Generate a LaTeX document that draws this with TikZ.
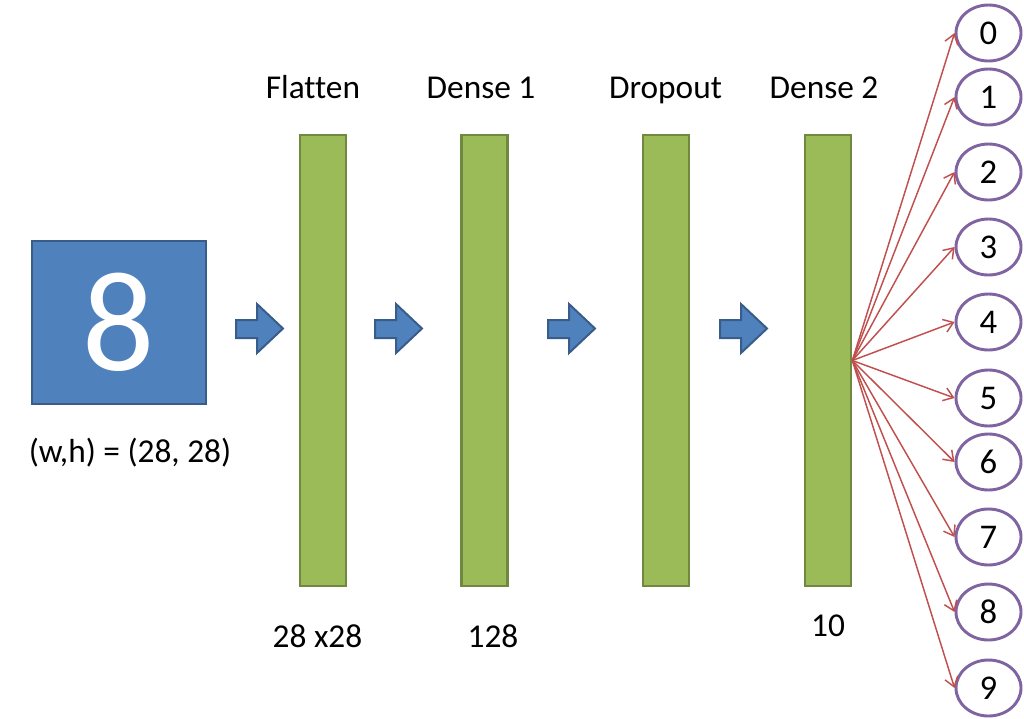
\documentclass[tikz,border=0pt]{standalone}
\usepackage{fontspec}
\setmainfont{Carlito}[Ligatures=NoCommon]
\usetikzlibrary{arrows.meta,shapes.geometric}
\definecolor{boxblue}{HTML}{4F81BD}
\definecolor{boxblueline}{HTML}{385D8A}
\definecolor{bargreen}{HTML}{9BBB59}
\definecolor{bargreenline}{HTML}{71893F}
\definecolor{linkred}{HTML}{C0504D}
\definecolor{outpurple}{HTML}{8064A2}
\tikzset{
  layerbar/.style={draw=bargreenline, fill=bargreen, line width=2pt, minimum width=34.5pt, minimum height=338.25pt, inner sep=0pt},
  flowarrow/.style={draw=boxblueline, fill=boxblue, line width=1.5pt, line join=miter},
  lbl/.style={font=\fontsize{25}{30}\selectfont, inner sep=0pt, anchor=base},
  outnode/.style={ellipse, draw=outpurple, line width=2.2pt, fill=white, minimum width=48.75pt, minimum height=42pt, inner sep=0pt, font=\fontsize{26}{30}\selectfont},
  link/.style={draw=linkred, line width=1.1pt, -{Straight Barb[length=7pt,width=10pt]}}
}
\begin{document}
\begin{tikzpicture}[x=0.75pt,y=-0.75pt]
\useasboundingbox (0,0) rectangle (1024,718);
% input image
\node[draw=boxblueline, fill=boxblue, line width=1.5pt, minimum width=130.5pt, minimum height=122.25pt, inner sep=0pt, text=white, font=\fontsize{107}{110}\selectfont] (img) at (119,322.5) {8};
\node[lbl] (imglbl) at (130,462) {(w,h) = (28, 28)};
% layers
\node[layerbar] (fl) at (323,360.5) {};
\node[layerbar] (d1) at (484.5,360.5) {};
\node[layerbar] (dr) at (666,360.5) {};
\node[layerbar] (d2) at (828,360.5) {};
\node[lbl] (flt) at (313,98.5) {Flatten};
\node[lbl] (d1t) at (481,98.5) {Dense 1};
\node[lbl] (drt) at (665.5,98.5) {Dropout};
\node[lbl] (d2t) at (824,98.5) {Dense 2};
\node[lbl] (flb) at (317.5,647) {28 x28};
\node[lbl] (d1b) at (493,647) {128};
\node[lbl] (d2b) at (828,636) {10};
% flow arrows
\foreach \x in {236,375,548,720}{
  \draw[flowarrow] (\x,320) -- (\x+21,320) -- (\x+21,304) -- (\x+47,328.5) -- (\x+21,353) -- (\x+21,338) -- (\x,338) -- cycle;
}
% outputs
\foreach \d/\y in {0/33,1/97,2/172,3/247,4/322,5/398,6/462,7/537,8/612,9/688}{
  \node[outnode] (o\d) at (988.5,\y) {\d};
}
\foreach \d in {0,...,9}{
  \draw[link] (d2.east) -- (o\d.west);
}
\end{tikzpicture}
\end{document}
